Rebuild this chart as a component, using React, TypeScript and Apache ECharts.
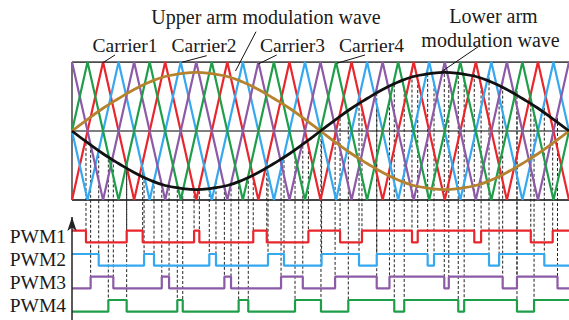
import React, { useEffect, useRef } from "react";
import * as echarts from "echarts";

// x axis: 0..32, one unit = a quarter of a carrier period (fundamental = 32 units)
const X_MAX = 32;

// carrier values at each unit (triangles, vertices at +-1)
const carrier1 = [-1,0,1,0,-1,0,1,0,-1,0,1,0,-1,0,1,0,-1,0,1,0,-1,0,1,0,-1,0,1,0,-1,0,1,0,-1];
const carrier2 = [0,-1,0,1,0,-1,0,1,0,-1,0,1,0,-1,0,1,0,-1,0,1,0,-1,0,1,0,-1,0,1,0,-1,0,1,0];
const carrier3 = [1,0,-1,0,1,0,-1,0,1,0,-1,0,1,0,-1,0,1,0,-1,0,1,0,-1,0,1,0,-1,0,1,0,-1,0,1];
const carrier4 = [0,1,0,-1,0,1,0,-1,0,1,0,-1,0,1,0,-1,0,1,0,-1,0,1,0,-1,0,1,0,-1,0,1,0,-1,0];

// modulation waves sampled at each unit
const upperWave = [0,0.17,0.33,0.47,0.6,0.71,0.79,0.83,0.85,0.83,0.79,0.71,0.6,0.47,0.33,0.17,0,-0.17,-0.33,-0.47,-0.6,-0.71,-0.79,-0.83,-0.85,-0.83,-0.79,-0.71,-0.6,-0.47,-0.33,-0.17,0];
const lowerWave = [0,-0.17,-0.33,-0.47,-0.6,-0.71,-0.79,-0.83,-0.85,-0.83,-0.79,-0.71,-0.6,-0.47,-0.33,-0.17,0,0.17,0.33,0.47,0.6,0.71,0.79,0.83,0.85,0.83,0.79,0.71,0.6,0.47,0.33,0.17,0];

// PWM switching instants (x units) and initial states
const pwmNames = ["PWM1", "PWM2", "PWM3", "PWM4"];
const pwmStart = [1, 1, 0, 0];
const pwm1Edges = [0.9, 3.52, 4.55, 7.86, 8.2, 11.67, 12.54, 15.22, 17.26, 18.67, 21.89, 22.26, 25.9, 26.34, 29.54, 30.95];
const pwm2Edges = [1.72, 4.64, 5.28, 8.84, 9.27, 12.62, 13.65, 16.07, 18.48, 19.62, 22.9, 23.31, 26.85, 27.5, 30.41];
const pwm3Edges = [1.2, 2.66, 5.78, 6.25, 9.81, 10.24, 13.46, 14.86, 16.94, 19.62, 20.44, 23.97, 24.26, 27.73, 28.65, 31.26];
const pwm4Edges = [2.34, 3.52, 6.78, 7.13, 10.73, 11.35, 14.36, 16.03, 17.79, 20.75, 21.39, 24.87, 25.25, 28.65, 29.75];

// ---- layout / style ----
const W = 569, H = 320;
const GRID_LEFT = 72, GRID_TOP = 62;
const PX_PER_UNIT = 69; // carrier +-1 spans 62..200
const Y_MAX = 1;
const Y_MIN = 1 - (H - GRID_TOP) / PX_PER_UNIT;
const lvl = (px: number) => 1 - (px - GRID_TOP) / PX_PER_UNIT;
const ROW_HIGH_PX = [230.7, 254, 276.7, 300];
const ROW_SWING_PX = 11.7;
const COLORS = ["#e8262c", "#35a8ef", "#8c5aa6", "#1f9e4a"];
const BROWN = "#b5832e";
const FONT_FAMILY = "Liberation Serif";

const carriers = [carrier1, carrier2, carrier3, carrier4];
const edges = [pwm1Edges, pwm2Edges, pwm3Edges, pwm4Edges];

function valueAt(arr: number[], x: number) {
  const i = Math.min(Math.floor(x), arr.length - 2);
  return arr[i] + (arr[i + 1] - arr[i]) * (x - i);
}

export default function App() {
  const ref = useRef<HTMLDivElement>(null);
  useEffect(() => {
    if (!ref.current) return;
    const chart = echarts.init(ref.current, undefined, { renderer: "svg" });
    const idx = (arr: number[]) => arr.map((v, i) => [i, v]);

    const series: any[] = [];
    const frame = (data: number[][], color: string, width: number) => ({
      type: "line", data, symbol: "none", silent: true, z: 1,
      lineStyle: { color, width },
    });
    series.push(frame([[0, 1], [X_MAX, 1]], "#111", 1.3));
    series.push(frame([[0, -1], [X_MAX, -1]], "#444", 2));
    series.push(frame([[0, 0], [X_MAX, 0]], "#555", 1.5));
    series.push(frame([[0, 1], [0, -1]], "#444", 1.5));
    // PWM axis with arrow
    series.push({
      type: "line", symbol: "none", showSymbol: true, z: 5, silent: true,
      lineStyle: { color: "#222", width: 1.5 },
      itemStyle: { color: "#222" },
      data: [[0, Y_MIN], { value: [0, lvl(217)], symbol: "arrow", symbolSize: [7, 14] }],
    });
    // dashed projection lines
    const dashData: number[][] = [];
    edges.forEach((list, k) => list.forEach((e) => dashData.push([e, valueAt(carriers[k], e), k])));
    series.push({
      type: "custom", z: 2, silent: true, clip: false,
      data: dashData,
      renderItem: (_p: any, api: any) => {
        const x = api.value(0), y0 = api.value(1), k = api.value(2);
        const p1 = api.coord([x, y0]);
        const p2 = api.coord([x, lvl(ROW_HIGH_PX[k])]);
        return {
          type: "line",
          shape: { x1: p1[0], y1: p1[1], x2: p2[0], y2: p2[1] },
          style: { stroke: "#222", lineWidth: 1, lineDash: [3, 2] },
        };
      },
    });
    // carriers
    carriers.forEach((c, k) => series.push({
      type: "line", data: idx(c), symbol: "none", z: 3,
      lineStyle: { color: COLORS[k], width: 2.2 },
    }));
    // modulation waves
    series.push({ type: "line", data: idx(upperWave), smooth: true, symbol: "none", z: 4, lineStyle: { color: BROWN, width: 2.8 } });
    series.push({ type: "line", data: idx(lowerWave), smooth: true, symbol: "none", z: 4, lineStyle: { color: "#111", width: 2.8 } });
    // PWM waveforms
    edges.forEach((list, k) => {
      const hi = lvl(ROW_HIGH_PX[k]);
      const lo = lvl(ROW_HIGH_PX[k] + ROW_SWING_PX);
      let cur = pwmStart[k];
      const pts: number[][] = [[0, cur ? hi : lo]];
      list.forEach((e) => {
        pts.push([e, cur ? hi : lo]);
        cur = 1 - cur;
        pts.push([e, cur ? hi : lo]);
      });
      pts.push([X_MAX, cur ? hi : lo]);
      series.push({ type: "line", data: pts, symbol: "none", z: 4, clip: false, lineStyle: { color: COLORS[k], width: 2.2 } });
    });

    const txt = (text: string, x: number, y: number, size: number, align = "center") => ({
      type: "text", x, y, silent: true, z: 10,
      style: {
        text, fill: "#1a1a1a", fontSize: size, fontFamily: FONT_FAMILY,
        textAlign: align, textVerticalAlign: "middle",
      },
    });
    const lead = (x1: number, y1: number, x2: number, y2: number) => ({
      type: "line", silent: true, z: 10,
      shape: { x1, y1, x2, y2 }, style: { stroke: "#111", lineWidth: 1 },
    });

    chart.setOption({
      animation: false,
      textStyle: { fontFamily: FONT_FAMILY },
      grid: { left: GRID_LEFT, right: 0, top: GRID_TOP, bottom: 0, containLabel: false },
      xAxis: { type: "value", min: 0, max: X_MAX, show: false },
      yAxis: { type: "value", min: Y_MIN, max: Y_MAX, show: false },
      series,
      graphic: [
        txt("Upper arm modulation wave", 266, 17, 20),
        txt("Carrier1", 125, 45, 19.5),
        txt("Carrier2", 204, 45, 19.5),
        txt("Carrier3", 292.5, 45, 19.5),
        txt("Carrier4", 371.5, 45, 19.5),
        txt("Lower arm", 493.5, 16, 20),
        txt("modulation wave", 490.5, 40, 20),
        ...pwmNames.map((n, k) => txt(n, 66, ROW_HIGH_PX[k] + ROW_SWING_PX / 2, 19.5, "right")),
        lead(115, 55, 102.3, 63),
        lead(206.7, 55.7, 181.7, 62.3),
        lead(256, 31.7, 235.5, 71),
        lead(276.7, 55, 258.3, 64),
        lead(365, 55, 336.7, 63.3),
        lead(478.3, 46.7, 440, 72.7),
      ],
    });
    return () => chart.dispose();
  }, []);
  return <div ref={ref} style={{ position: "fixed", left: 0, top: 0, width: W, height: H, background: "#fff" }} />;
}
